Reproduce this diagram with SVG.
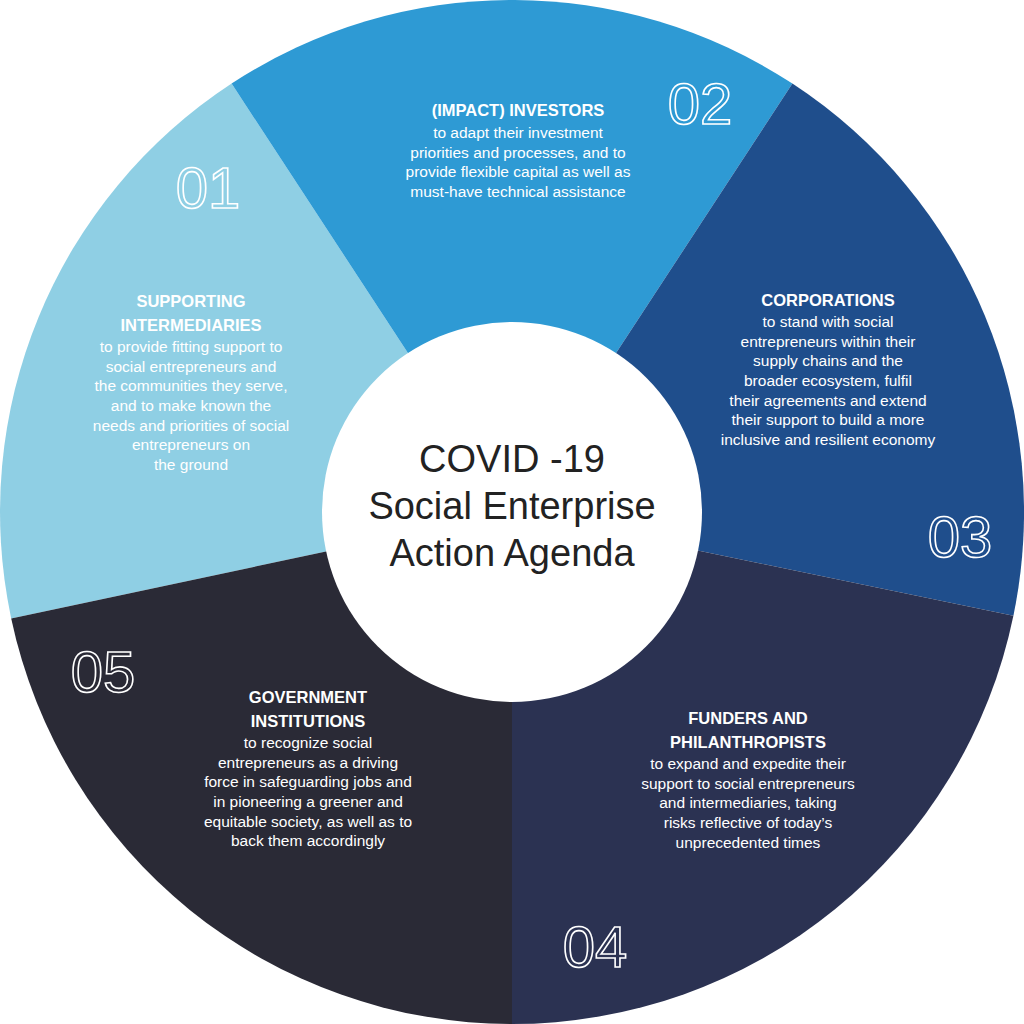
<svg xmlns="http://www.w3.org/2000/svg" width="1024" height="1024" viewBox="0 0 1024 1024">
<style>
.num{font-family:"Liberation Sans",Arial,sans-serif;font-size:58px;fill:none;stroke:#fff;stroke-width:1.6;text-anchor:middle}
.t{font-family:"Liberation Sans",Arial,sans-serif;font-size:15.5px;fill:#fff;text-anchor:middle}
.b{font-weight:bold;font-size:16.5px}
.c{font-family:"Liberation Sans",Arial,sans-serif;font-size:38px;fill:#222;text-anchor:middle}
</style>
<rect width="1024" height="1024" fill="#fff"/>
<g id="seg01"><path d="M512 512 L11.2 618.4 A512 512 0 0 1 231.6 83.6 Z" fill="#8fcfe4"/>
<text class="num" x="208" y="208">01</text>
<text class="t"><tspan class="b" x="191" y="307">SUPPORTING</tspan><tspan class="b" x="191" y="331">INTERMEDIARIES</tspan><tspan x="191" y="352">to provide fitting support to</tspan><tspan x="191" y="372">social entrepreneurs and</tspan><tspan x="191" y="391">the communities they serve,</tspan><tspan x="191" y="411">and to make known the</tspan><tspan x="191" y="431">needs and priorities of social</tspan><tspan x="191" y="450">entrepreneurs on</tspan><tspan x="191" y="470">the ground</tspan></text></g>
<g id="seg02"><path d="M512 512 L231.6 83.6 A512 512 0 0 1 792.4 83.6 Z" fill="#2e9ad4"/>
<text class="num" x="700" y="124">02</text>
<text class="t"><tspan class="b" x="518" y="116">(IMPACT) INVESTORS</tspan><tspan x="518" y="138">to adapt their investment</tspan><tspan x="518" y="158">priorities and processes, and to</tspan><tspan x="518" y="177">provide flexible capital as well as</tspan><tspan x="518" y="197">must-have technical assistance</tspan></text></g>
<g id="seg03"><path d="M512 512 L792.4 83.6 A512 512 0 0 1 1013.4 615.8 Z" fill="#1f4e8c"/>
<text class="num" x="960" y="557">03</text>
<text class="t"><tspan class="b" x="828" y="306">CORPORATIONS</tspan><tspan x="828" y="327">to stand with social</tspan><tspan x="828" y="347">entrepreneurs within their</tspan><tspan x="828" y="366">supply chains and the</tspan><tspan x="828" y="386">broader ecosystem, fulfil</tspan><tspan x="828" y="406">their agreements and extend</tspan><tspan x="828" y="425">their support to build a more</tspan><tspan x="828" y="445">inclusive and resilient economy</tspan></text></g>
<g id="seg04"><path d="M512 512 L1013.4 615.8 A512 512 0 0 1 512 1024 Z" fill="#2b3252"/>
<text class="num" x="595" y="967">04</text>
<text class="t"><tspan class="b" x="748" y="724">FUNDERS AND</tspan><tspan class="b" x="748" y="748">PHILANTHROPISTS</tspan><tspan x="748" y="769">to expand and expedite their</tspan><tspan x="748" y="789">support to social entrepreneurs</tspan><tspan x="748" y="808">and intermediaries, taking</tspan><tspan x="748" y="828">risks reflective of today’s</tspan><tspan x="748" y="848">unprecedented times</tspan></text></g>
<g id="seg05"><path d="M512 512 L512 1024 A512 512 0 0 1 11.2 618.4 Z" fill="#2a2a36"/>
<text class="num" x="103" y="692">05</text>
<text class="t"><tspan class="b" x="308" y="703">GOVERNMENT</tspan><tspan class="b" x="308" y="727">INSTITUTIONS</tspan><tspan x="308" y="748">to recognize social</tspan><tspan x="308" y="768">entrepreneurs as a driving</tspan><tspan x="308" y="787">force in safeguarding jobs and</tspan><tspan x="308" y="807">in pioneering a greener and</tspan><tspan x="308" y="827">equitable society, as well as to</tspan><tspan x="308" y="846">back them accordingly</tspan></text></g>
<g id="center"><circle cx="512" cy="512" r="190" fill="#fff"/>
<text class="c"><tspan x="512" y="472">COVID -19</tspan><tspan x="512" y="519">Social Enterprise</tspan><tspan x="512" y="566">Action Agenda</tspan></text></g>
<g id="connectors"></g>
</svg>
